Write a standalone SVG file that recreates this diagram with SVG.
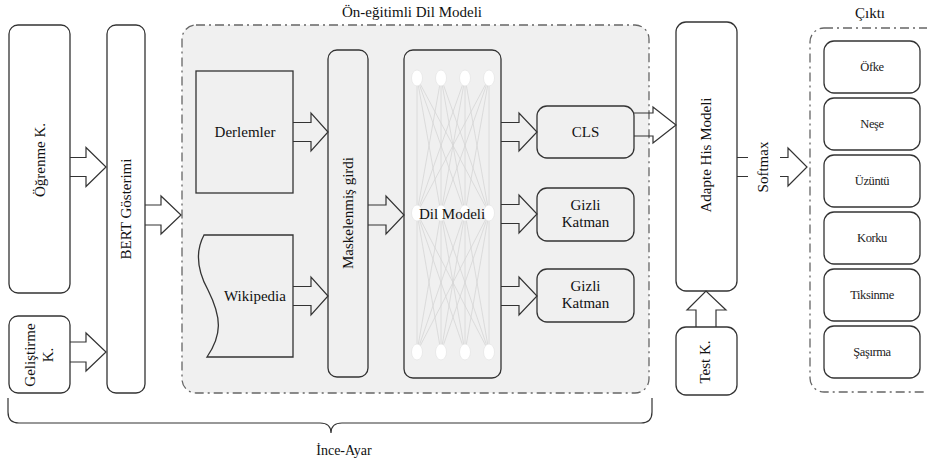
<svg xmlns="http://www.w3.org/2000/svg" width="927" height="463" viewBox="0 0 927 463">
<style>
text{font-family:"Liberation Serif","Times New Roman",serif;fill:#111;}
.box{fill:#fff;stroke:#333;stroke-width:1.3;}
.ibox{fill:none;stroke:#333;stroke-width:1.3;}
.cont{fill:#f0f0f0;stroke:#666;stroke-width:1.3;stroke-dasharray:9 4 2 4;}
.cont2{fill:none;stroke:#666;stroke-width:1.3;stroke-dasharray:9 4 2 4;}
.arr{fill:none;stroke:#333;stroke-width:1.2;stroke-linejoin:miter;}
.nn{stroke:#d6d6d6;stroke-width:0.8;}
.node{fill:#fff;stroke:#e6e6e6;stroke-width:0.8;}
.t15{font-size:15px;}
.t13{font-size:12.5px;letter-spacing:-0.4px;fill:#222;}
</style>
<rect width="927" height="463" fill="#fff"/>

<g id="pretrained">
<rect class="cont" x="182" y="25" width="467" height="368" rx="14"/>
<text class="t15" x="412" y="17" text-anchor="middle">Ön-eğitimli Dil Modeli</text>
</g>

<g id="ogrenme">
<rect class="box" x="9" y="25" width="61" height="268" rx="9"/>
<text class="t15" transform="rotate(-90 39.5 160)" x="39.5" y="160" text-anchor="middle" dominant-baseline="central">Öğrenme K.</text>
</g>
<g id="gelistirme">
<rect class="box" x="9" y="316" width="61" height="77" rx="9"/>
<text class="t15" transform="rotate(-90 39.5 355)" text-anchor="middle"><tspan x="39.5" y="350">Geliştirme</tspan><tspan x="39.5" y="368">K.</tspan></text>
</g>
<g id="bert">
<rect class="box" x="107" y="25" width="38" height="368" rx="9"/>
<text class="t15" transform="rotate(-90 126 209)" x="126" y="209" text-anchor="middle" dominant-baseline="central">BERT Gösterimi</text>
</g>

<g id="derlemler">
<rect class="ibox" x="196" y="71" width="97" height="122"/>
<text class="t15" x="245" y="137" text-anchor="middle">Derlemler</text>
</g>
<g id="wikipedia">
<path class="ibox" d="M204,235 H293 V357 H207 C222,335 222,318 208,290 C196,268 196,250 204,235 Z"/>
<text class="t15" x="255" y="301" text-anchor="middle">Wikipedia</text>
</g>
<g id="maskelenmis">
<rect class="ibox" x="328" y="50" width="40" height="327" rx="9"/>
<text class="t15" transform="rotate(-90 348 213)" x="348" y="213" text-anchor="middle" dominant-baseline="central">Maskelenmiş girdi</text>
</g>

<g id="dilmodeli">
<rect class="ibox" x="404" y="50" width="97" height="328" rx="9"/>
<g class="nn">
<line x1="417" y1="78" x2="417" y2="213"/><line x1="417" y1="78" x2="441" y2="213"/><line x1="417" y1="78" x2="465" y2="213"/><line x1="417" y1="78" x2="489" y2="213"/>
<line x1="441" y1="78" x2="417" y2="213"/><line x1="441" y1="78" x2="441" y2="213"/><line x1="441" y1="78" x2="465" y2="213"/><line x1="441" y1="78" x2="489" y2="213"/>
<line x1="465" y1="78" x2="417" y2="213"/><line x1="465" y1="78" x2="441" y2="213"/><line x1="465" y1="78" x2="465" y2="213"/><line x1="465" y1="78" x2="489" y2="213"/>
<line x1="489" y1="78" x2="417" y2="213"/><line x1="489" y1="78" x2="441" y2="213"/><line x1="489" y1="78" x2="465" y2="213"/><line x1="489" y1="78" x2="489" y2="213"/>
<line x1="417" y1="213" x2="417" y2="352"/><line x1="417" y1="213" x2="441" y2="352"/><line x1="417" y1="213" x2="465" y2="352"/><line x1="417" y1="213" x2="489" y2="352"/>
<line x1="441" y1="213" x2="417" y2="352"/><line x1="441" y1="213" x2="441" y2="352"/><line x1="441" y1="213" x2="465" y2="352"/><line x1="441" y1="213" x2="489" y2="352"/>
<line x1="465" y1="213" x2="417" y2="352"/><line x1="465" y1="213" x2="441" y2="352"/><line x1="465" y1="213" x2="465" y2="352"/><line x1="465" y1="213" x2="489" y2="352"/>
<line x1="489" y1="213" x2="417" y2="352"/><line x1="489" y1="213" x2="441" y2="352"/><line x1="489" y1="213" x2="465" y2="352"/><line x1="489" y1="213" x2="489" y2="352"/>
</g>
<g class="node">
<ellipse cx="417" cy="78" rx="5.5" ry="8"/><ellipse cx="441" cy="78" rx="5.5" ry="8"/><ellipse cx="465" cy="78" rx="5.5" ry="8"/><ellipse cx="489" cy="78" rx="5.5" ry="8"/>
<ellipse cx="417" cy="213" rx="5.5" ry="8"/><ellipse cx="441" cy="213" rx="5.5" ry="8"/><ellipse cx="465" cy="213" rx="5.5" ry="8"/><ellipse cx="489" cy="213" rx="5.5" ry="8"/>
<ellipse cx="417" cy="352" rx="5.5" ry="8"/><ellipse cx="441" cy="352" rx="5.5" ry="8"/><ellipse cx="465" cy="352" rx="5.5" ry="8"/><ellipse cx="489" cy="352" rx="5.5" ry="8"/>
</g>
<text class="t15" x="452" y="219" text-anchor="middle">Dil Modeli</text>
</g>

<g id="cls">
<rect class="ibox" x="537" y="106" width="97" height="52" rx="10"/>
<text class="t15" x="585.5" y="137" text-anchor="middle">CLS</text>
</g>
<g id="gizli1">
<rect class="ibox" x="537" y="188" width="97" height="53" rx="10"/>
<text class="t15" x="585.5" text-anchor="middle"><tspan x="585.5" y="210">Gizli</tspan><tspan x="585.5" y="227">Katman</tspan></text>
</g>
<g id="gizli2">
<rect class="ibox" x="537" y="269" width="97" height="53" rx="10"/>
<text class="t15" x="585.5" text-anchor="middle"><tspan x="585.5" y="291">Gizli</tspan><tspan x="585.5" y="308">Katman</tspan></text>
</g>

<g id="adapte">
<rect class="box" x="676" y="22" width="61" height="269" rx="10"/>
<text class="t15" transform="rotate(-90 706 155)" x="706" y="155" text-anchor="middle" dominant-baseline="central">Adapte His Modeli</text>
</g>
<g id="testk">
<rect class="box" x="676" y="327" width="61" height="68" rx="10"/>
<text class="t15" transform="rotate(-90 705 362)" x="705" y="362" text-anchor="middle" dominant-baseline="central">Test K.</text>
</g>

<g id="cikti">
<rect class="cont2" x="810" y="28" width="135" height="364" rx="14"/>
<text class="t15" x="870" y="18" text-anchor="middle">Çıktı</text>
</g>
<g id="ofke"><rect class="box" x="824" y="41" width="96" height="52" rx="10"/><text class="t13" x="872" y="71" text-anchor="middle">Öfke</text></g>
<g id="nese"><rect class="box" x="824" y="98" width="96" height="52" rx="10"/><text class="t13" x="872" y="128" text-anchor="middle">Neşe</text></g>
<g id="uzuntu"><rect class="box" x="824" y="155" width="96" height="52" rx="10"/><text class="t13" x="872" y="185" text-anchor="middle">Üzüntü</text></g>
<g id="korku"><rect class="box" x="824" y="212" width="96" height="52" rx="10"/><text class="t13" x="872" y="242" text-anchor="middle">Korku</text></g>
<g id="tiksinme"><rect class="box" x="824" y="269" width="96" height="52" rx="10"/><text class="t13" x="872" y="299" text-anchor="middle">Tiksinme</text></g>
<g id="sasirma"><rect class="box" x="824" y="326" width="96" height="52" rx="10"/><text class="t13" x="872" y="356" text-anchor="middle">Şaşırma</text></g>

<g id="connectors">
<path class="arr" d="M70,157.5 H86 V147.5 L106,167 L86,186.5 V176.5 H70"/>
<path class="arr" d="M70,342 H86 V333 L106,352 L86,371 V362 H70"/>
<path class="arr" d="M145,205 H161 V196 L181,215 L161,234 V225 H145"/>
<path class="arr" d="M293,122.5 H311 V113 L328,132 L311,151 V141.5 H293"/>
<path class="arr" d="M293,286.5 H311 V277 L328,296 L311,315 V305.5 H293"/>
<path class="arr" d="M368,205 H386 V196 L404,215 L386,234 V225 H368"/>
<path class="arr" d="M501,122.5 H519 V113 L537,132 L519,151 V141.5 H501"/>
<path class="arr" d="M501,204.5 H519 V195 L537,214 L519,233 V223.5 H501"/>
<path class="arr" d="M501,286.5 H519 V277 L537,296 L519,315 V305.5 H501"/>
<path class="arr" d="M634,113 H653 V107 L676,125 L653,143 V136 H634"/>
<path class="arr" d="M696,327 V310 H687 L706,291 L726,310 H716 V327"/>
<path class="arr" d="M737,157.5 H748 M737,176.5 H748"/>
<path class="arr" d="M780,157.5 H788 V148 L807,167 L788,186 V176.5 H780"/>
<text class="t15" transform="rotate(-90 763 167)" x="763" y="167" text-anchor="middle" dominant-baseline="central">Softmax</text>
<path class="arr" d="M8,398 V412 Q8,423 19,423 H320 Q331,423 331,433 Q331,423 342,423 H641 Q652,423 652,412 V398"/>
<text style="font-size:14px" x="344" y="455" text-anchor="middle">İnce-Ayar</text>
</g>
</svg>
